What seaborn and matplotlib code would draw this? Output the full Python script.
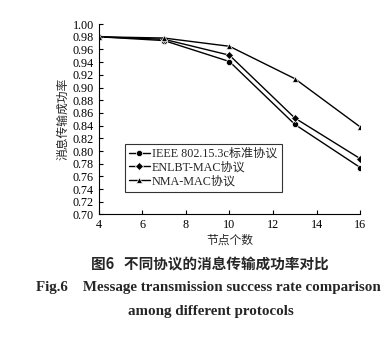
import matplotlib
matplotlib.use("Agg")
import matplotlib.pyplot as plt
import seaborn as sns
import pandas as pd

nodes = [4, 7, 10, 13, 16]
ieee = [0.980, 0.974, 0.941, 0.842, 0.774]
enlbt = [0.980, 0.976, 0.951, 0.852, 0.788]
nma = [0.980, 0.978, 0.965, 0.914, 0.838]
series_names = ["IEEE 802.15.3c标准协议", "ENLBT-MAC协议", "NMA-MAC协议"]
markers = ["o", "D", "^"]
x_ticks = [4, 6, 8, 10, 12, 14, 16]
y_ticks = [0.70, 0.72, 0.74, 0.76, 0.78, 0.80, 0.82, 0.84, 0.86, 0.88, 0.90,
           0.92, 0.94, 0.96, 0.98, 1.00]

rows = []
for name, vals in zip(series_names, [ieee, enlbt, nma]):
    for n, v in zip(nodes, vals):
        rows.append({"nodes": n, "rate": v, "protocol": name})
df = pd.DataFrame(rows)

sns.set_theme(style="ticks")
serif = ["Liberation Serif", "Noto Sans CJK SC"]
plt.rcParams["font.family"] = serif

fig = plt.figure(figsize=(3.92, 3.44), dpi=100)
ax = fig.add_axes([0.2518, 0.3765, 0.667, 0.5535])

sns.lineplot(data=df, x="nodes", y="rate", hue="protocol", style="protocol",
             markers=markers, dashes=False, palette=["black"] * 3,
             markersize=4.5, linewidth=1.0, markeredgewidth=0.5, ax=ax,
             hue_order=series_names, style_order=series_names)

ax.set_xlim(4, 16)
ax.set_ylim(0.70, 1.00)
ax.set_xticks(x_ticks)
ax.set_yticks(y_ticks)
ax.set_yticklabels([f"{t:.2f}" for t in y_ticks])
ax.tick_params(direction="in", length=3, width=0.8, labelsize=8.7, colors="black")
for lab in ax.get_xticklabels() + ax.get_yticklabels():
    lab.set_family(serif)
sns.despine(ax=ax)
for s in ["left", "bottom"]:
    ax.spines[s].set_linewidth(0.8)
    ax.spines[s].set_color("black")

ax.set_xlabel("节点个数", fontsize=8.5, family=["Noto Sans CJK SC"], labelpad=2)
ax.set_ylabel("消息传输成功率", fontsize=8.5, family=["Noto Sans CJK SC"], labelpad=2)

leg = ax.legend(loc="lower left", bbox_to_anchor=(0.10, 0.12),
                frameon=True, fancybox=False, edgecolor="black", borderpad=0.35,
                labelspacing=0.15, handlelength=1.7, handletextpad=0.2,
                borderaxespad=0.0, prop={"family": serif, "size": 8.7})
leg.get_frame().set_linewidth(0.8)

fig.text(0.536, 0.2326, "图6   不同协议的消息传输成功率对比", ha="center", va="center",
         fontsize=10.5, fontweight="bold", family=["Noto Sans CJK SC"])
fig.text(0.532, 0.1637, "Fig.6    Message transmission success rate comparison",
         ha="center", va="center", fontsize=10.8, fontweight="bold", family=serif)
fig.text(0.537, 0.0959, "among different protocols", ha="center", va="center",
         fontsize=10.8, fontweight="bold", family=serif)

fig.savefig("out.png", dpi=100, facecolor="white")
